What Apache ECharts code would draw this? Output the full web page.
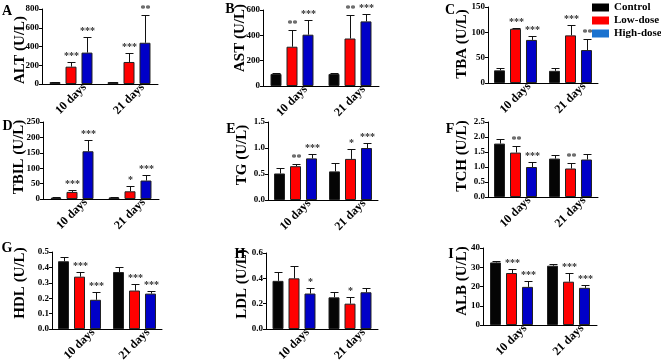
<!DOCTYPE html>
<html>
<head>
<meta charset="utf-8">
<script src="https://cdn.jsdelivr.net/npm/echarts@6/dist/echarts.min.js"></script>
<style>html,body{margin:0;padding:0;background:#fff}#c{width:661px;height:364px}</style>
</head>
<body>
<div id="c"></div>
<script>
// ---------- DATA ----------
const categories = ['10 days', '21 days'];
const groups = ['Control', 'Low-dose', 'High-dose'];
const panelLetters = ['A', 'B', 'C', 'D', 'E', 'F', 'G', 'H', 'I'];
const panelNames = ['ALT (U/L)', 'AST (U/L)', 'TBA (U/L)', 'TBIL (U/L)', 'TG (U/L)', 'TCH (U/L)', 'HDL (U/L)', 'LDL (U/L)', 'ALB (U/L)'];
const yMax = [800, 600, 150, 250, 1.5, 2.5, 0.5, 0.6, 40];
const yInterval = [200, 200, 50, 50, 0.5, 0.5, 0.1, 0.2, 10];
const yDecimals = [0, 0, 0, 0, 1, 1, 1, 1, 0];

// rows: Control, Low-dose, High-dose ; columns: 10 days, 21 days
const ALT_mean = [[20, 20], [185, 235], [335, 440]];
const ALT_sd = [[5, 4], [45, 100], [170, 295]];
const ALT_sig = [['', ''], ['***', '***'], ['***', '**']];

const AST_mean = [[95, 95], [310, 375], [405, 510]];
const AST_sd = [[10, 10], [135, 185], [115, 55]];
const AST_sig = [['', ''], ['**', '**'], ['***', '***']];

const TBA_mean = [[25, 24], [107, 94], [85, 65]];
const TBA_sd = [[4, 6], [2, 21], [8, 22]];
const TBA_sig = [['', ''], ['***', '***'], ['***', '**']];

const TBIL_mean = [[4, 5], [23, 25], [155, 60]];
const TBIL_sd = [[1, 1.5], [5, 17], [37, 17]];
const TBIL_sig = [['', ''], ['***', '*'], ['***', '***']];

const TG_mean = [[0.51, 0.55], [0.65, 0.79], [0.80, 1.0]];
const TG_sd = [[0.10, 0.16], [0.05, 0.19], [0.09, 0.10]];
const TG_sig = [['', ''], ['**', '*'], ['***', '***']];

const TCH_mean = [[1.78, 1.28], [1.48, 0.95], [1.0, 1.25]];
const TCH_sd = [[0.17, 0.12], [0.22, 0.20], [0.18, 0.17]];
const TCH_sig = [['', ''], ['**', '**'], ['***', '']];

const HDL_mean = [[0.44, 0.37], [0.34, 0.25], [0.19, 0.23]];
const HDL_sd = [[0.03, 0.03], [0.03, 0.04], [0.05, 0.02]];
const HDL_sig = [['', ''], ['***', '***'], ['***', '***']];

const LDL_mean = [[0.38, 0.25], [0.40, 0.20], [0.28, 0.29]];
const LDL_sd = [[0.07, 0.04], [0.10, 0.05], [0.04, 0.03]];
const LDL_sig = [['', ''], ['', '*'], ['*', '']];

const ALB_mean = [[32.5, 30.8], [27, 22.5], [19.8, 19.3]];
const ALB_sd = [[1, 1], [2, 4.5], [3.2, 1.7]];
const ALB_sig = [['', ''], ['***', '***'], ['***', '***']];

const allMeans = [ALT_mean, AST_mean, TBA_mean, TBIL_mean, TG_mean, TCH_mean, HDL_mean, LDL_mean, ALB_mean];
const allSd = [ALT_sd, AST_sd, TBA_sd, TBIL_sd, TG_sd, TCH_sd, HDL_sd, LDL_sd, ALB_sd];
const allSig = [ALT_sig, AST_sig, TBA_sig, TBIL_sig, TG_sig, TCH_sig, HDL_sig, LDL_sig, ALB_sig];

// ---------- LAYOUT / STYLE ----------
const gridBox = [ // left, top, width, height
  [42, 9, 116, 75], [263, 10, 116, 76], [488, 7, 110, 76],
  [43, 122, 116, 77], [268, 122, 110, 78], [488, 122, 110, 75],
  [52, 252, 110, 79], [266, 253, 112, 76], [483, 248, 114, 77]
];
const namePos = [[20, 50], [240, 38], [462, 44], [19, 157], [242, 155], [462, 156], [20, 283], [242, 284], [462, 281]];
const letterPos = [[7, 11], [230, 9], [450, 10.5], [7.5, 126], [231, 129], [450, 129], [7, 248], [240, 254], [451, 254]];
const barColors = ['#050505', '#ff0000', '#0000c8'];
const legendColors = ['#000000', '#ff0000', '#1a72cf'];
const FONT = "'Liberation Serif','Times New Roman',serif";
const BAR_W = 11, BAR_STEP = 16;

const grids = [], xAxes = [], yAxes = [], series = [], graphics = [];
for (let p = 0; p < 9; p++) {
  const b = gridBox[p];
  grids.push({ left: b[0], top: b[1], width: b[2], height: b[3], containLabel: false });
  xAxes.push({
    type: 'category', gridIndex: p, data: categories,
    axisLine: { lineStyle: { color: '#000', width: 1 } },
    axisTick: { show: false },
    axisLabel: { interval: 0, rotate: 45, align: 'center', verticalAlign: 'middle', margin: 15,
      fontFamily: FONT, fontWeight: 'bold', fontSize: 12, color: '#000' }
  });
  const dec = yDecimals[p];
  yAxes.push({
    type: 'value', gridIndex: p, min: 0, max: yMax[p], interval: yInterval[p],
    splitLine: { show: false },
    axisLine: { show: true, lineStyle: { color: '#000', width: 1 } },
    axisTick: { show: true, length: 3, lineStyle: { color: '#000' } },
    axisLabel: { margin: 3, fontFamily: FONT, fontWeight: 'bold', fontSize: 9, color: '#000',
      formatter: v => v.toFixed(dec) }
  });
  for (let g = 0; g < 3; g++) {
    series.push({
      type: 'bar', name: groups[g], xAxisIndex: p, yAxisIndex: p,
      data: allMeans[p][g], barWidth: BAR_W, barGap: '45.45%',
      itemStyle: { color: barColors[g], borderColor: '#222', borderWidth: 1 },
      emphasis: { disabled: true }, animation: false
    });
  }
  const items = [];
  for (let g = 0; g < 3; g++) for (let c = 0; c < 2; c++) {
    items.push({ c: c, g: g, mean: allMeans[p][g][c], sd: allSd[p][g][c], sig: allSig[p][g][c] });
  }
  series.push({
    type: 'custom', xAxisIndex: p, yAxisIndex: p, z: 5, clip: false, animation: false,
    data: items.map(d => [d.c, d.mean + d.sd]),
    renderItem: function (params, api) {
      const d = items[params.dataIndex];
      const base = api.coord([d.c, d.mean]);
      const top = api.coord([d.c, d.mean + d.sd]);
      const x = Math.round(base[0] + (d.g - 1) * BAR_STEP) + 0.5;
      const yt = Math.round(top[1]) + 0.5;
      const children = [
        { type: 'line', shape: { x1: x, y1: base[1], x2: x, y2: yt }, style: { stroke: '#111', lineWidth: 1 } },
        { type: 'line', shape: { x1: x - 4, y1: yt, x2: x + 4, y2: yt }, style: { stroke: '#111', lineWidth: 1 } }
      ];
      if (d.sig) {
        children.push({ type: 'text', style: { text: d.sig, x: x, y: yt - 1, align: 'center', verticalAlign: 'bottom',
          font: "bold 10px " + FONT, fill: '#333' } });
      }
      return { type: 'group', children: children };
    }
  });
  graphics.push({ type: 'text', x: letterPos[p][0], y: letterPos[p][1],
    style: { text: panelLetters[p], font: "bold 14px " + FONT, fill: '#000', align: 'center', verticalAlign: 'middle' } });
  graphics.push({ type: 'text', x: namePos[p][0], y: namePos[p][1], rotation: Math.PI / 2,
    style: { text: panelNames[p], font: "bold 15px " + FONT, fill: '#000', align: 'center', verticalAlign: 'middle' } });
}

const chart = echarts.init(document.getElementById('c'), null, { renderer: 'canvas' });
chart.setOption({
  animation: false,
  grid: grids, xAxis: xAxes, yAxis: yAxes, series: series, graphic: graphics,
  legend: {
    orient: 'vertical', left: 592, top: 2, itemGap: 2, padding: 0,
    itemWidth: 17, itemHeight: 8, icon: 'rect', selectedMode: false,
    itemStyle: { borderWidth: 0 },
    textStyle: { fontFamily: FONT, fontWeight: 'bold', fontSize: 11, color: '#000' },
    data: groups.map((n, i) => ({ name: n, itemStyle: { color: legendColors[i], borderWidth: 0 } }))
  }
});
</script>
</body>
</html>
